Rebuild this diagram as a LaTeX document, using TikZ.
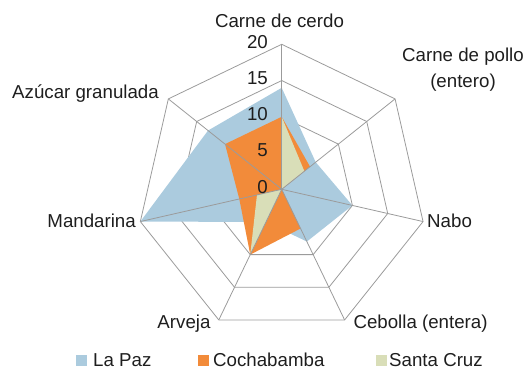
\documentclass[tikz,border=0pt]{standalone}
\usepackage{fontspec}
\setmainfont{Liberation Sans}
\definecolor{lapaz}{RGB}{171,203,222}
\definecolor{cocha}{RGB}{242,139,58}
\definecolor{scruz}{RGB}{217,222,184}
\definecolor{gridc}{RGB}{155,155,155}
\definecolor{txt}{RGB}{30,30,30}
\begin{document}
\begin{tikzpicture}[x=1bp,y=1bp,
  lbl/.style={font=\fontsize{18.7bp}{26bp}\selectfont, text=txt, inner sep=0pt},
  gridline/.style={draw=gridc, line width=0.8bp, line join=miter},
  legsq/.style={minimum size=11bp, inner sep=0pt}]
\useasboundingbox (0,0) rectangle (527,370);
\coordinate (O) at (281.7,180.7);
\begin{scope}[shift={(O)}]
  % rings
  \foreach \v in {5,10,15,20}
    \draw[gridline] (90:{\v*7.25}) \foreach \k in {1,...,6}{ -- ({90-\k*360/7}:{\v*7.25}) } -- cycle;
  % series
  \fill[lapaz] (90:{14*7.25}) \foreach \k/\v in {1/6,2/10,3/8,4/5,5/20,6/13}{ -- ({90-\k*360/7}:{\v*7.25}) } -- cycle;
  \fill[cocha] (90:{10*7.25}) \foreach \k/\v in {1/5,2/0,3/6,4/10,5/6,6/10}{ -- ({90-\k*360/7}:{\v*7.25}) } -- cycle;
  \fill[scruz] (90:{10*7.25}) \foreach \k/\v in {1/4,2/0,3/0,4/10,5/3.5,6/0}{ -- ({90-\k*360/7}:{\v*7.25}) } -- cycle;
  % spokes
  \foreach \k in {0,...,6}
    \draw[gridline] (0,0) -- ({90-\k*360/7}:145);
\end{scope}
% axis values
\node[lbl, anchor=base east] (v20) at (268,321.9) {20};
\node[lbl, anchor=base east] (v15) at (268,285.7) {15};
\node[lbl, anchor=base east] (v10) at (268,249.4) {10};
\node[lbl, anchor=base east] (v5) at (268,213.2) {5};
\node[lbl, anchor=base east] (v0) at (268,176.9) {0};
% category labels
\node[lbl, anchor=base] (cerdo) at (279.5,342.7) {Carne de cerdo};
\node[lbl, anchor=base, align=center] (pollo) at (463,282.7) {Carne de pollo\\(entero)};
\node[lbl, anchor=base west] (nabo) at (427,143) {Nabo};
\node[lbl, anchor=base west] (cebolla) at (353.3,41.7) {Cebolla (entera)};
\node[lbl, anchor=base east] (arveja) at (210.7,41.7) {Arveja};
\node[lbl, anchor=base east] (mandarina) at (136,143) {Mandarina};
\node[lbl, anchor=base east] (azucar) at (159,272) {Azúcar granulada};
% legend
\node[legsq, fill=lapaz, anchor=south west] (k1) at (76,3.5) {};
\node[lbl, anchor=base west] (l1) at (93,3.5) {La Paz};
\node[legsq, fill=cocha, anchor=south west] (k2) at (198,3.5) {};
\node[lbl, anchor=base west] (l2) at (213,3.5) {Cochabamba};
\node[legsq, fill=scruz, anchor=south west] (k3) at (376,3.5) {};
\node[lbl, anchor=base west] (l3) at (389,3.5) {Santa Cruz};
\end{tikzpicture}
\end{document}
